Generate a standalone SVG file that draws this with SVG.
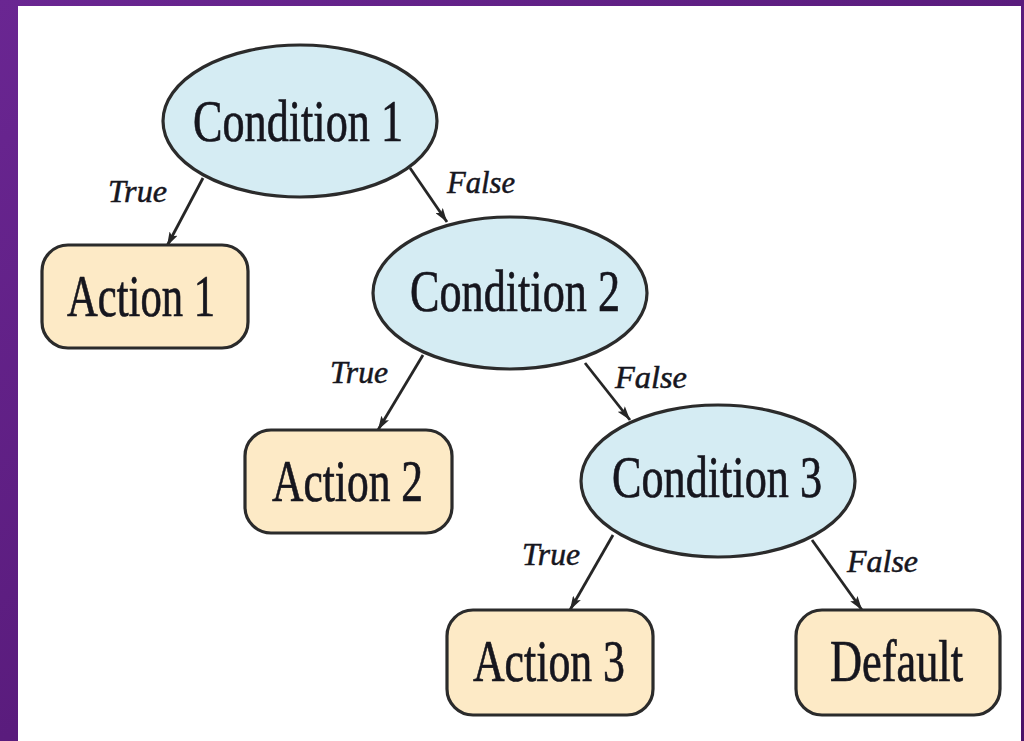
<svg xmlns="http://www.w3.org/2000/svg" width="1024" height="741" viewBox="0 0 1024 741">
  <defs>
    <linearGradient id="bg" x1="0" y1="0" x2="1" y2="1">
      <stop offset="0" stop-color="#6a2692"/>
      <stop offset="1" stop-color="#4a1268"/>
    </linearGradient>
    <marker id="arr" viewBox="0 0 14 9" refX="14" refY="4.5" markerWidth="14" markerHeight="9" markerUnits="userSpaceOnUse" orient="auto">
      <path d="M0,0 L14,4.5 L0,9 L3,4.5 Z" fill="#262626"/>
    </marker>
    <style>
      .cond { fill: #d5ecf3; stroke: #2b2b2b; stroke-width: 3.2; }
      .act { fill: #fdeac6; stroke: #2b2b2b; stroke-width: 3.2; }
      .main { font-family: "Liberation Serif", "Times New Roman", serif; font-size: 60px; fill: #16161e; stroke: #16161e; stroke-width: 0.7; }
      .lbl { font-family: "Liberation Serif", "Times New Roman", serif; font-style: italic; font-size: 31px; fill: #16161e; stroke: #16161e; stroke-width: 0.5; }
      .edge { stroke: #262626; stroke-width: 2.8; fill: none; marker-end: url(#arr); }
    </style>
  </defs>
  <rect x="0" y="0" width="1024" height="741" fill="url(#bg)"/>
  <rect x="18" y="6" width="1003" height="735" fill="#ffffff"/>

  <g id="connectors">
    <line class="edge" x1="203" y1="178" x2="167" y2="246"/>
    <line class="edge" x1="410" y1="168" x2="447" y2="222"/>
    <line class="edge" x1="423" y1="355" x2="378" y2="430"/>
    <line class="edge" x1="585" y1="363" x2="630" y2="420"/>
    <line class="edge" x1="613" y1="535" x2="570" y2="610"/>
    <line class="edge" x1="812" y1="540" x2="862" y2="610"/>
    <text class="lbl" x="108" y="202" textLength="59" lengthAdjust="spacingAndGlyphs">True</text>
    <text class="lbl" x="447" y="193" textLength="68" lengthAdjust="spacingAndGlyphs">False</text>
    <text class="lbl" x="330" y="383" textLength="58" lengthAdjust="spacingAndGlyphs">True</text>
    <text class="lbl" x="615" y="388" textLength="72" lengthAdjust="spacingAndGlyphs">False</text>
    <text class="lbl" x="522" y="565" textLength="58" lengthAdjust="spacingAndGlyphs">True</text>
    <text class="lbl" x="847" y="572" textLength="71" lengthAdjust="spacingAndGlyphs">False</text>
  </g>

  <g id="condition1">
    <ellipse class="cond" cx="300" cy="121" rx="137" ry="76"/>
    <text class="main" x="193" y="141" textLength="210" lengthAdjust="spacingAndGlyphs">Condition 1</text>
  </g>
  <g id="action1">
    <rect class="act" x="42" y="245" width="206" height="103" rx="26"/>
    <text class="main" x="67" y="316" textLength="148" lengthAdjust="spacingAndGlyphs">Action 1</text>
  </g>
  <g id="condition2">
    <ellipse class="cond" cx="510" cy="293" rx="137" ry="76"/>
    <text class="main" x="410" y="311" textLength="210" lengthAdjust="spacingAndGlyphs">Condition 2</text>
  </g>
  <g id="action2">
    <rect class="act" x="245" y="430" width="207" height="103" rx="26"/>
    <text class="main" x="272" y="501" textLength="151" lengthAdjust="spacingAndGlyphs">Action 2</text>
  </g>
  <g id="condition3">
    <ellipse class="cond" cx="718" cy="481" rx="137" ry="76"/>
    <text class="main" x="612" y="497" textLength="210" lengthAdjust="spacingAndGlyphs">Condition 3</text>
  </g>
  <g id="action3">
    <rect class="act" x="447" y="610" width="206" height="105" rx="26"/>
    <text class="main" x="473" y="681" textLength="152" lengthAdjust="spacingAndGlyphs">Action 3</text>
  </g>
  <g id="default">
    <rect class="act" x="796" y="610" width="204" height="105" rx="26"/>
    <text class="main" x="830" y="681" textLength="133" lengthAdjust="spacingAndGlyphs">Default</text>
  </g>
</svg>
